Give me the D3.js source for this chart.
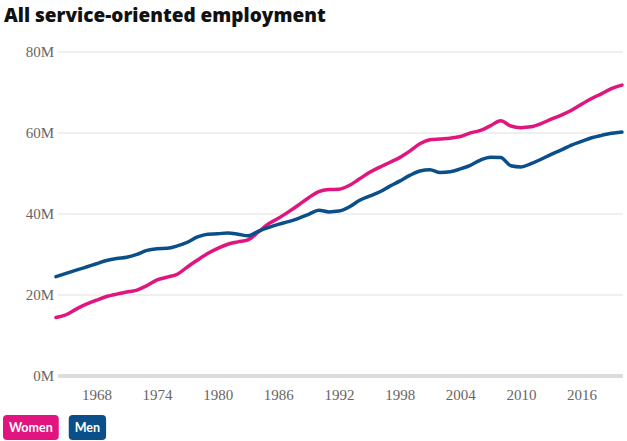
<!DOCTYPE html>
<html>
<head>
<meta charset="utf-8">
<script src="https://cdn.jsdelivr.net/npm/d3@7"></script>
<style>
  html, body { margin: 0; padding: 0; background: #fff; }
  svg { display: block; }
</style>
</head>
<body>
<svg id="chart" width="627" height="441"></svg>
<script>
const years = d3.range(1964, 2021);
const women = [14.3,15.0,16.4,17.6,18.6,19.5,20.1,20.6,21.1,22.2,
  23.6,24.3,25.0,26.8,28.5,30.1,31.4,32.4,33.0,33.5,
  35.4,37.4,38.8,40.4,42.1,43.9,45.4,45.9,46.0,46.9,
  48.5,50.1,51.4,52.6,53.8,55.4,57.2,58.2,58.4,58.6,
  59.0,59.9,60.5,61.7,62.9,61.6,61.2,61.4,62.2,63.3,
  64.3,65.5,67.0,68.4,69.6,70.9,71.7];
const men = [24.4,25.2,26.0,26.8,27.6,28.4,28.9,29.2,29.9,30.9,
  31.3,31.4,32.0,32.9,34.2,34.9,35.0,35.2,34.9,34.5,
  35.6,36.5,37.3,38.0,38.8,39.8,40.8,40.4,40.6,41.6,
  43.2,44.3,45.3,46.7,48.0,49.4,50.5,50.8,50.1,50.3,
  51.0,51.9,53.2,53.9,53.8,51.8,51.5,52.3,53.4,54.6,
  55.7,56.9,57.8,58.7,59.3,59.8,60.1];
const yTicks = [0, 20, 40, 60, 80];
const xTicks = [1968, 1974, 1980, 1986, 1992, 1998, 2004, 2010, 2016];
const seriesNames = ["Women", "Men"];
const seriesColors = ["#E0157F", "#0B4F8A"];

const svg = d3.select("#chart");
const x = d3.scaleLinear().domain([1964, 2020]).range([56, 622]);
const y = d3.scaleLinear().domain([0, 80]).range([375.5, 51.5]);

svg.append("text")
  .attr("x", 4).attr("y", 22)
  .attr("font-family", "'Open Sans', sans-serif")
  .attr("font-weight", 800)
  .attr("font-size", 19)
  .attr("fill", "#111")
  .text("All service-oriented employment");

// grid
const yAxis = d3.axisLeft(y).tickValues(yTicks).tickSize(-565).tickFormat(d => d + "M").tickPadding(4);
const gy = svg.append("g").attr("transform", "translate(58,0)").call(yAxis);
gy.select(".domain").remove();
gy.selectAll(".tick line").attr("stroke", "#e0e0e0").attr("stroke-width", 1);
gy.selectAll(".tick text")
  .attr("font-family", "'Liberation Serif', 'Times New Roman', serif")
  .attr("font-size", 15).attr("fill", "#666");
gy.selectAll(".tick").filter(d => d === 0).select("line")
  .attr("stroke", "#dcdcdc").attr("stroke-width", 4);

const xAxis = d3.axisBottom(x).tickValues(xTicks).tickSize(0).tickFormat(d3.format("d")).tickPadding(12);
const gx = svg.append("g").attr("transform", "translate(0,377)").call(xAxis);
gx.select(".domain").remove();
gx.selectAll(".tick text")
  .attr("font-family", "'Liberation Serif', 'Times New Roman', serif")
  .attr("font-size", 15).attr("fill", "#666");

const line = d3.line().x((d, i) => x(years[i])).y(d => y(d)).curve(d3.curveMonotoneX);
[women, men].forEach((s, i) => {
  svg.append("path").datum(s)
    .attr("fill", "none")
    .attr("stroke", seriesColors[i])
    .attr("stroke-width", 3.5)
    .attr("stroke-linejoin", "round")
    .attr("stroke-linecap", "round")
    .attr("d", line);
});

// legend
let lx = 3;
seriesNames.forEach((name, i) => {
  const g = svg.append("g");
  const t = g.append("text")
    .attr("font-family", "Lato, sans-serif")
    .attr("font-weight", 700)
    .attr("font-size", 12.5)
    .attr("fill", "#fff")
    .text(name);
  const w = t.node().getComputedTextLength() + 12;
  g.insert("rect", "text")
    .attr("x", lx).attr("y", 415).attr("width", w).attr("height", 25)
    .attr("rx", 4).attr("fill", seriesColors[i]);
  t.attr("x", lx + w / 2).attr("y", 432).attr("text-anchor", "middle");
  lx += w + 10;
});
</script>
</body>
</html>
